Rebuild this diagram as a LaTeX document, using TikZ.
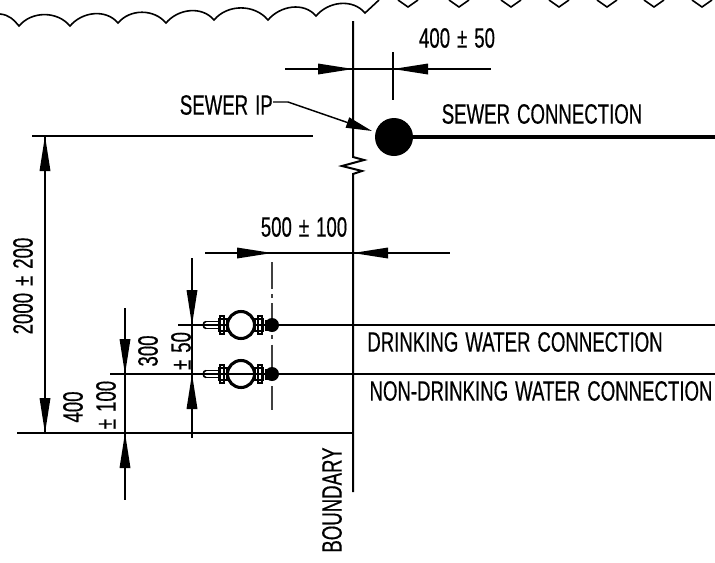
\documentclass[tikz,border=0pt]{standalone}
\usepackage{fontspec}
\setmainfont[FakeStretch=0.665,FakeBold=0.4,WordSpace=1.35]{Liberation Sans}
\usetikzlibrary{arrows.meta}
\tikzset{
 x=0.75pt,y=-0.75pt,
 dimline/.style={line width=1.05pt,black},
 heavy/.style={line width=2.1pt,black},
 medium/.style={line width=1.5pt,black},
 cloud/.style={line width=1.2pt,black,line join=miter},
 lbl/.style={font=\fontsize{21pt}{23pt}\selectfont,inner sep=0pt,text=black},
 valveline/.style={line width=1.2pt,black},
 leader/.style={line width=1.1pt,black,-{Stealth[length=26pt*0.75,width=8pt,inset=0pt]}},
 arcs/.style={out=50,in=130,looseness=1.0},
}
\newcommand{\harrow}[3]{\fill (#1,#3) -- ++(#2,-5.5) -- ++(0,11) -- cycle;}
\newcommand{\varrow}[3]{\fill (#1,#2) -- ++(-5.5,#3) -- ++(11,0) -- cycle;}
\newcommand{\valve}[2]{
 \draw[line width=2.3pt] (#1,#2) circle (13.5);
 \draw[valveline] (#1-35,#2-3.5) -- (#1-21,#2-3.5) (#1-35,#2+3.5) -- (#1-21,#2+3.5);
 \draw[valveline] (#1-35,#2-3.5) to[out=180,in=180,looseness=1.3] (#1-35,#2+3.5);
 \draw[valveline] (#1-22,#2-6) rectangle (#1-14,#2+6);
 \draw[line width=1.6pt] (#1-21,#2-9) rectangle (#1-17,#2+9);
 \draw[valveline] (#1+14,#2-6) rectangle (#1+22,#2+6);
 \draw[line width=1.6pt] (#1+17,#2-9) rectangle (#1+21,#2+9);
 \fill (#1+31,#2) circle (7);
 \fill (#1+24,#2-5.5) rectangle (#1+31,#2+5.5);
}
\begin{document}
\begin{tikzpicture}
\useasboundingbox (0,0) rectangle (715,562);
% cloud line
\draw[cloud] (0,14) to[out=-5,in=130] (19,26)
 to[arcs] (70,26)
 to[arcs] (118,23)
 to[arcs] (166,23)
 to[arcs] (214,20)
 to[arcs] (268,20)
 to[arcs] (316,16)
 to[arcs] (365,13)
 -- (379,0);
\foreach \vx in {408,459,511,559,607,654,702}{
 \draw[cloud] (\vx-10,0) -- (\vx,7) -- (\vx+10,0);
}
% boundary
\coordinate (bt) at (353,21);
\coordinate (bb) at (353,492);
\draw[medium] (bt) -- (353,157) -- (364,160) -- (342,166) -- (362,171) -- (353,174) -- (bb);
\coordinate (gl) at (17,433);
\coordinate (gr) at (353,433);
\draw[medium] (gl) -- (gr);
% 400 +- 50
\coordinate (a1) at (285,69); \coordinate (a2) at (491,69);
\draw[dimline] (a1) -- (a2);
\coordinate (a3) at (393,52); \coordinate (a4) at (393,100);
\draw[dimline] (a3) -- (a4);
\harrow{353}{-35}{69}
\harrow{393}{35}{69}
\node[lbl] (t400) at (457,38) {400 ± 50};
% sewer
\node[lbl,anchor=east] (tip) at (273,105) {SEWER IP};
\node[circle,fill=black,minimum size=28.5pt,inner sep=0pt] (ip) at (394,137) {};
\coordinate (lk) at (288,102);
\draw[leader] (tip.east |- lk) -- (lk) -- (372,131);
\coordinate (se) at (715,137);
\draw[line width=3.2pt] (ip.center) -- (se);
\node[lbl] (tsc) at (542,114) {SEWER CONNECTION};
% 2000
\coordinate (b1) at (32,136); \coordinate (b2) at (313,136);
\draw[dimline] (b1) -- (b2);
\coordinate (c1) at (45,136); \coordinate (c2) at (45,433);
\draw[dimline] (c1) -- (c2);
\varrow{45}{136}{35}
\varrow{45}{433}{-35}
\node[lbl,rotate=90] (t2000) at (23,286) {2000 ± 200};
% 500
\coordinate (d1) at (205,253); \coordinate (d2) at (450,253);
\draw[dimline] (d1) -- (d2);
\harrow{272}{-35}{253}
\harrow{353}{35}{253}
\node[lbl] (t500) at (304,227) {500 ± 100};
\coordinate (e1) at (272,262); \coordinate (e2) at (272,410);
\draw[line width=0.8pt,black!75,dash pattern=on 20pt off 4pt on 3pt off 4pt] (e1) -- (e2);
% water lines
\coordinate (w1a) at (178,325); \coordinate (w1b) at (272,325); \coordinate (w1c) at (715,325);
\coordinate (w2a) at (110,374); \coordinate (w2b) at (272,374); \coordinate (w2c) at (715,374);
\draw[dimline] (w1a) -- (w1b);
\draw[dimline] (w2a) -- (w2b);
\draw[heavy] (w1b) -- (w1c);
\draw[heavy] (w2b) -- (w2c);
\fill[white] (241,325) circle (13.5) (241,374) circle (13.5);
\valve{241}{325}
\valve{241}{374}
\draw[dimline] (228,374) -- (254,374);
% 300
\coordinate (f1) at (192,258); \coordinate (f2) at (192,438);
\draw[dimline] (f1) -- (f2);
\varrow{192}{325}{-35}
\varrow{192}{374}{35}
\node[lbl,rotate=90] (t300) at (148,351) {300};
\node[lbl,rotate=90] (t50) at (181,351) {± 50};
% 400 100
\coordinate (g1) at (125,308); \coordinate (g2) at (125,500);
\draw[dimline] (g1) -- (g2);
\varrow{125}{374}{-35}
\varrow{125}{433}{35}
\node[lbl,rotate=90] (t4) at (73,407) {400};
\node[lbl,rotate=90] (t100) at (106,405) {± 100};
% labels
\node[lbl] (td) at (515,342) {DRINKING WATER CONNECTION};
\node[lbl] (tn) at (541,391) {NON-DRINKING WATER CONNECTION};
\node[lbl,rotate=90] (tb) at (332,500) {BOUNDARY};
\end{tikzpicture}
\end{document}
